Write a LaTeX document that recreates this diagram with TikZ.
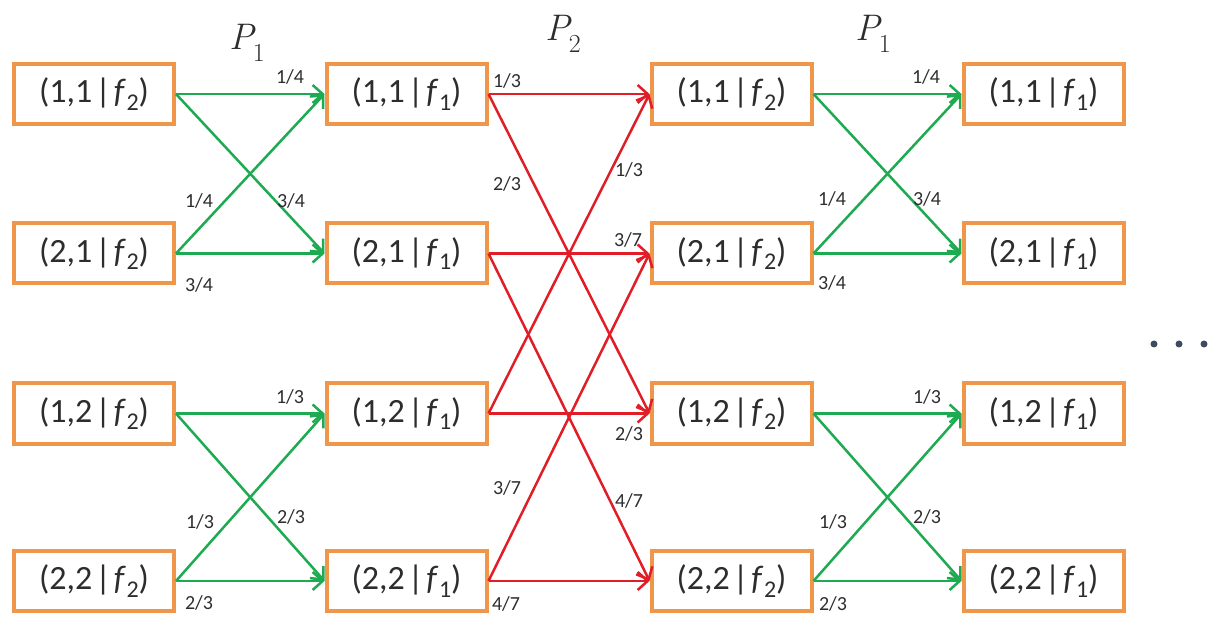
\documentclass[tikz,border=0pt]{standalone}
\usepackage{fontspec}
\setmainfont{Carlito}
\newfontfamily\lmfont{Latin Modern Roman}
\usetikzlibrary{arrows.meta}
\definecolor{boxorange}{RGB}{240,150,75}
\definecolor{arrgreen}{RGB}{30,170,80}
\definecolor{arrred}{RGB}{225,30,40}
\definecolor{dotblue}{RGB}{60,75,95}
\definecolor{txtgray}{RGB}{45,45,45}
\newcommand{\st}[3]{(#1,#2\kern3pt|\kern3pt\textit{f}\kern0.5pt\raisebox{-0.22em}{\fontsize{24}{24}\selectfont #3})}
\newcommand{\pname}[1]{{\lmfont\itshape P}\kern-1pt\raisebox{-0.3em}{\fontsize{26}{26}\selectfont\lmfont #1}}
\begin{document}
\begin{tikzpicture}[x=1pt,y=-1pt,
  state/.style={draw=boxorange, line width=4pt, minimum width=160pt, minimum height=60pt,
    inner sep=0pt, font=\fontsize{34}{36}\selectfont, text=txtgray, fill=white},
  garr/.style={draw=arrgreen, line width=2.5pt, -{Straight Barb[length=10pt,width=18pt]}},
  rarr/.style={draw=arrred, line width=2.5pt, -{Straight Barb[length=10pt,width=18pt]}},
  prob/.style={font=\fontsize{20}{22}\selectfont, text=txtgray, inner sep=0pt},
  plab/.style={font=\fontsize{37}{42}\selectfont, inner sep=0pt, anchor=base, text=txtgray}]
\useasboundingbox (0,0) rectangle (1219,620);

% column 1
\node[state] (a1) at (94,94)    {\st{1}{1}{2}};
\node[state] (a2) at (94,253.5) {\st{2}{1}{2}};
\node[state] (a3) at (94,413.5) {\st{1}{2}{2}};
\node[state] (a4) at (94,581)   {\st{2}{2}{2}};
% column 2
\node[state] (b1) at (406.5,94)    {\st{1}{1}{1}};
\node[state] (b2) at (406.5,253.5) {\st{2}{1}{1}};
\node[state] (b3) at (406.5,413.5) {\st{1}{2}{1}};
\node[state] (b4) at (406.5,581)   {\st{2}{2}{1}};
% column 3
\node[state] (c1) at (731.5,94)    {\st{1}{1}{2}};
\node[state] (c2) at (731.5,253.5) {\st{2}{1}{2}};
\node[state] (c3) at (731.5,413.5) {\st{1}{2}{2}};
\node[state] (c4) at (731.5,581)   {\st{2}{2}{2}};
% column 4
\node[state] (d1) at (1043.5,94)    {\st{1}{1}{1}};
\node[state] (d2) at (1043.5,253.5) {\st{2}{1}{1}};
\node[state] (d3) at (1043.5,413.5) {\st{1}{2}{1}};
\node[state] (d4) at (1043.5,581)   {\st{2}{2}{1}};

% P labels
\node[plab] (p1) at (247,50) {\pname{1}};
\node[plab] (p2) at (563,41) {\pname{2}};
\node[plab] (p3) at (873,41) {\pname{1}};

% green arrows, left
\draw[garr] (a1.east) -- (b1.west);
\draw[garr] (a1.east) -- (b2.west);
\draw[garr] (a2.east) -- (b1.west);
\draw[garr] (a2.east) -- (b2.west);
\draw[garr] (a3.east) -- (b3.west);
\draw[garr] (a3.east) -- (b4.west);
\draw[garr] (a4.east) -- (b3.west);
\draw[garr] (a4.east) -- (b4.west);
% green arrows, right
\draw[garr] (c1.east) -- (d1.west);
\draw[garr] (c1.east) -- (d2.west);
\draw[garr] (c2.east) -- (d1.west);
\draw[garr] (c2.east) -- (d2.west);
\draw[garr] (c3.east) -- (d3.west);
\draw[garr] (c3.east) -- (d4.west);
\draw[garr] (c4.east) -- (d3.west);
\draw[garr] (c4.east) -- (d4.west);
% red arrows
\draw[rarr] (b1.east) -- (c1.west);
\draw[rarr] (b1.east) -- (c3.west);
\draw[rarr] (b2.east) -- (c2.west);
\draw[rarr] (b2.east) -- (c4.west);
\draw[rarr] (b3.east) -- (c1.west);
\draw[rarr] (b3.east) -- (c3.west);
\draw[rarr] (b4.east) -- (c2.west);
\draw[rarr] (b4.east) -- (c4.west);

% probabilities, left green
\node[prob] (l1) at (290,77)  {1/4};
\node[prob] (l2) at (199,201) {1/4};
\node[prob] (l3) at (291,201) {3/4};
\node[prob] (l4) at (199,285) {3/4};
\node[prob] (l5) at (290,397) {1/3};
\node[prob] (l6) at (200,522) {1/3};
\node[prob] (l7) at (291,517) {2/3};
\node[prob] (l8) at (199,603) {2/3};
% probabilities, right green
\node[prob] (r1) at (926,77)  {1/4};
\node[prob] (r2) at (832,199) {1/4};
\node[prob] (r3) at (927,199) {3/4};
\node[prob] (r4) at (832,283) {3/4};
\node[prob] (r5) at (927,397) {1/3};
\node[prob] (r6) at (833,522) {1/3};
\node[prob] (r7) at (927,517) {2/3};
\node[prob] (r8) at (833,604) {2/3};
% probabilities, red
\node[prob] (m1) at (507,81)  {1/3};
\node[prob] (m2) at (507,184) {2/3};
\node[prob] (m3) at (629,170) {1/3};
\node[prob] (m4) at (628,240) {3/7};
\node[prob] (m5) at (629,434) {2/3};
\node[prob] (m6) at (507,488) {3/7};
\node[prob] (m7) at (629,501) {4/7};
\node[prob] (m8) at (506,604) {4/7};

% continuation dots
\fill[dotblue] (1154,344) circle (3.5pt);
\fill[dotblue] (1179,344) circle (3.5pt);
\fill[dotblue] (1204,344) circle (3.5pt);
\end{tikzpicture}
\end{document}
